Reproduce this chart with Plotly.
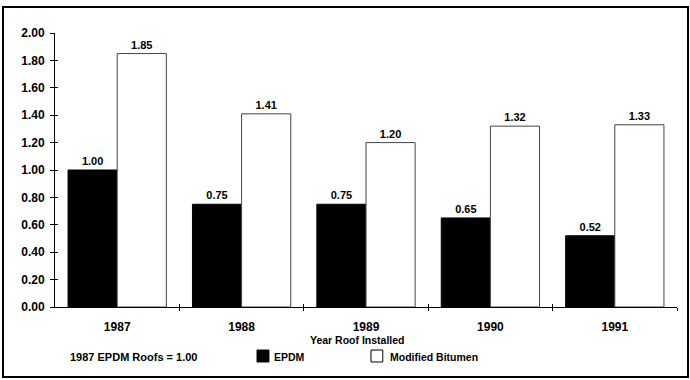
import plotly.graph_objects as go

# Relative roof cost index by installation year (1987 EPDM = 1.00)
years = ["1987", "1988", "1989", "1990", "1991"]
epdm = [1.00, 0.75, 0.75, 0.65, 0.52]
mod_bitumen = [1.85, 1.41, 1.20, 1.32, 1.33]
y_ticks = [0.0, 0.2, 0.4, 0.6, 0.8, 1.0, 1.2, 1.4, 1.6, 1.8, 2.0]

FONT = "Liberation Sans, Arial, sans-serif"
bold = lambda s: dict(family=FONT, size=s, color="black", weight="bold")

fig = go.Figure()
fig.add_trace(go.Bar(
    x=years, y=epdm, name="EPDM",
    marker=dict(color="black", line=dict(color="black", width=1)),
    text=[f"{v:.2f}" for v in epdm], textposition="outside",
    textfont=bold(11), cliponaxis=False,
))
fig.add_trace(go.Bar(
    x=years, y=mod_bitumen, name="Modified Bitumen",
    marker=dict(color="white", line=dict(color="#444", width=1)),
    text=[f"{v:.2f}" for v in mod_bitumen], textposition="outside",
    textfont=bold(11), cliponaxis=False,
))

fig.update_layout(
    width=690, height=380,
    margin=dict(l=55, r=13, t=33, b=73),
    paper_bgcolor="white", plot_bgcolor="white",
    barmode="group", bargap=0.21, bargroupgap=0,
    showlegend=False,
    font=dict(family=FONT, size=11, color="black"),
    xaxis=dict(
        type="category", ticks="", ticklabelstandoff=9,
        tickfont=bold(12),
        showline=True, linecolor="black", linewidth=1,
        showgrid=False, zeroline=False,
    ),
    # category-boundary tick marks that cross the x axis line
    xaxis2=dict(
        overlaying="x", range=[-0.5, 4.5], tickvals=[0.5, 1.5, 2.5, 3.5, 4.5],
        ticks="inside", ticklen=3, tickcolor="black", showticklabels=False,
        showgrid=False, zeroline=False, side="bottom", anchor="y",
    ),
    xaxis3=dict(
        overlaying="x", range=[-0.5, 4.5], tickvals=[0.5, 1.5, 2.5, 3.5, 4.5],
        ticks="outside", ticklen=3, tickcolor="black", showticklabels=False,
        showgrid=False, zeroline=False, side="bottom", anchor="y",
    ),
    yaxis=dict(
        range=[0, 2.0], tickvals=y_ticks, tickformat=".2f",
        ticks="outside", ticklen=4, tickcolor="black", ticklabelstandoff=3,
        tickfont=bold(12),
        showline=True, linecolor="black", linewidth=1,
        showgrid=False, zeroline=False,
    ),
    # inside tick marks so the y ticks cross the axis line
    yaxis2=dict(
        overlaying="y", range=[0, 2.0], tickvals=y_ticks, ticks="inside",
        ticklen=3, tickcolor="black", showticklabels=False,
        showgrid=False, zeroline=False, side="left",
    ),
)

# invisible traces so the overlay tick axes are drawn
fig.add_trace(go.Scatter(x=[0], y=[0], xaxis="x2", yaxis="y", mode="markers",
                         marker=dict(opacity=0), hoverinfo="skip", showlegend=False))
fig.add_trace(go.Scatter(x=[0], y=[0], xaxis="x3", yaxis="y", mode="markers",
                         marker=dict(opacity=0), hoverinfo="skip", showlegend=False))
fig.add_trace(go.Scatter(x=["1987"], y=[0], xaxis="x", yaxis="y2", mode="markers",
                         marker=dict(opacity=0), hoverinfo="skip", showlegend=False))

# axis title
fig.add_annotation(xref="paper", yref="paper", x=0.487, y=-0.12, xanchor="center",
                   yanchor="middle", text="Year Roof Installed", showarrow=False,
                   font=bold(10.5))

# outer frame
fig.add_shape(type="rect", xref="paper", yref="paper",
              x0=-0.0836, x1=1.0177, y0=-0.2555, y1=1.095,
              line=dict(color="black", width=2), fillcolor="rgba(0,0,0,0)", layer="below")

# legend row
fig.add_annotation(xref="paper", yref="paper", x=0.0209, y=-0.1825, xanchor="left",
                   yanchor="middle", text="1987 EPDM Roofs = 1.00", showarrow=False,
                   font=bold(11))
fig.add_shape(type="rect", xref="paper", yref="paper",
              x0=0.3248, x1=0.344, y0=-0.157, y1=-0.2007,
              line=dict(color="black", width=1), fillcolor="black")
fig.add_annotation(xref="paper", yref="paper", x=0.349, y=-0.1825, xanchor="left",
                   yanchor="middle", text="EPDM", showarrow=False, font=bold(10.5))
fig.add_shape(type="rect", xref="paper", yref="paper",
              x0=0.508, x1=0.527, y0=-0.157, y1=-0.2007,
              line=dict(color="black", width=1), fillcolor="white")
fig.add_annotation(xref="paper", yref="paper", x=0.5354, y=-0.1825, xanchor="left",
                   yanchor="middle", text="Modified Bitumen", showarrow=False,
                   font=bold(10.5))

fig.write_html("out.html")
